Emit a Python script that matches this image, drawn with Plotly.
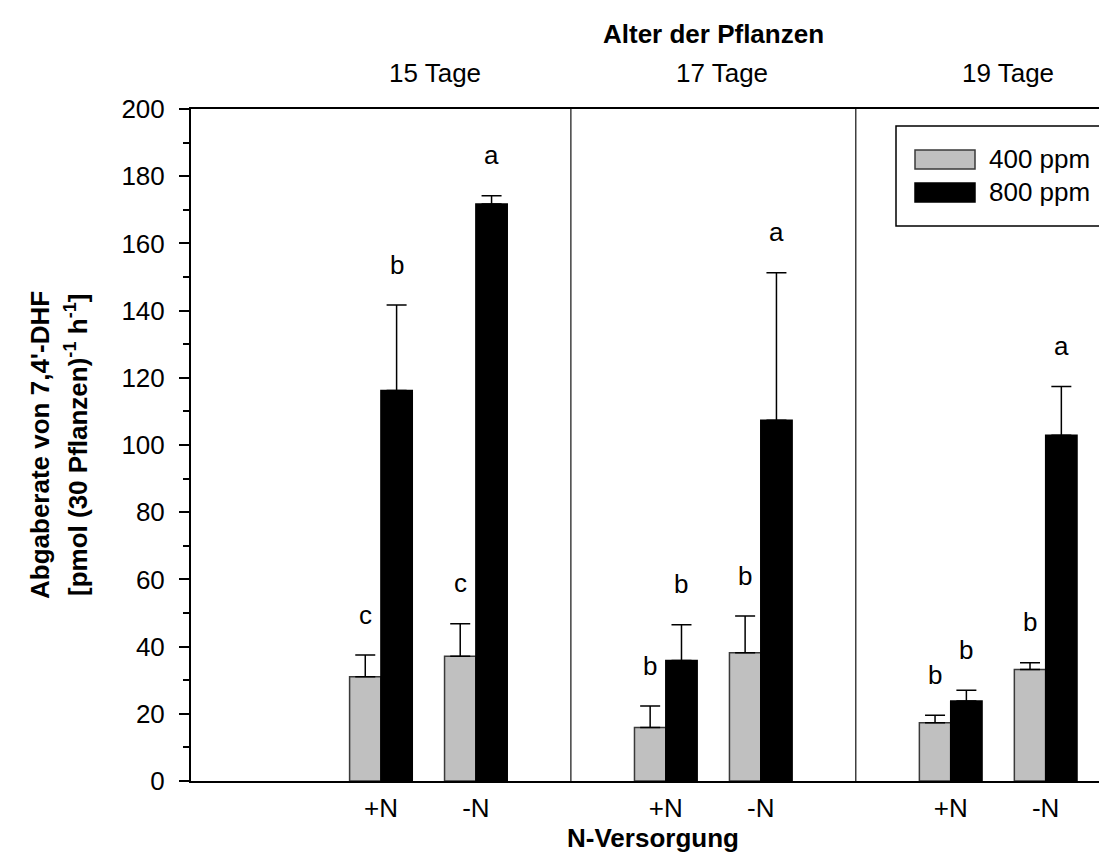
import plotly.graph_objects as go

# ---------------- data ----------------
ages = ["15 Tage", "17 Tage", "19 Tage"]
n_levels = ["+N", "-N"]
series_names = ["400 ppm", "800 ppm"]

v400 = [31.0, 37.1, 15.9, 38.2, 17.3, 33.2]
e400 = [6.5, 9.7, 6.4, 10.9, 2.3, 2.0]
v800 = [116.2, 171.7, 35.9, 107.4, 23.8, 102.9]
e800 = [25.5, 2.5, 10.6, 43.9, 3.2, 14.5]

letters400 = ["c", "c", "b", "b", "b", "b"]
letters800 = ["b", "a", "b", "a", "b", "a"]

y_ticks = [0, 20, 40, 60, 80, 100, 120, 140, 160, 180, 200]

# ---------------- layout constants ----------------
W, H = 1107, 863
ML, MR, MT, MB = 183, 0, 101, 90
PW, PH = W - ML - MR, H - MT - MB
XMAX = 9.73
FONT = "Arial, 'Liberation Sans', sans-serif"
FS = 26
BARGAP = 0.34

# positions: each age group uses 3 slots (2 bars + gap), starting at slot 2
x_pos = []
for g in range(len(ages)):
    for k in range(len(n_levels)):
        x_pos.append(2 + 3 * g + k)
sep_pos = [2 + 3 * g + 2 for g in range(len(ages) - 1)]
group_centers = [2 + 3 * g + 0.5 for g in range(len(ages))]
tick_text = [n_levels[i % 2] for i in range(len(x_pos))]


def px2x(px):  # paper coordinate from pixel
    return (px - ML) / PW


def px2y(py):
    return (H - MB - py) / PH


def txt(**kw):
    d = dict(showarrow=False, xanchor="center", yanchor="middle",
             font=dict(size=FS, color="black", family=FONT))
    d.update(kw)
    return d


fig = go.Figure()
fig.add_trace(go.Bar(
    x=x_pos, y=v400, name=series_names[0],
    marker=dict(color="#c0c0c0", line=dict(color="#3a3a3a", width=1.5)),
    error_y=dict(type="data", array=e400, arrayminus=[0] * len(e400),
                 symmetric=False, color="black", thickness=1.5, width=10),
))
fig.add_trace(go.Bar(
    x=x_pos, y=v800, name=series_names[1],
    marker=dict(color="#000000", line=dict(color="#000000", width=1.5)),
    error_y=dict(type="data", array=e800, arrayminus=[0] * len(e800),
                 symmetric=False, color="black", thickness=1.5, width=10),
))

annotations = []
off = (1 - BARGAP) / 4
for i, xp in enumerate(x_pos):
    annotations.append(txt(x=xp - off, y=v400[i] + e400[i] + 12, xref="x", yref="y",
                           text=letters400[i]))
    annotations.append(txt(x=xp + off, y=v800[i] + e800[i] + 12, xref="x", yref="y",
                           text=letters800[i]))

# group labels on top
shifts = [7, 9, 10]
for g, name in enumerate(ages):
    annotations.append(txt(x=group_centers[g], y=px2y(65), xref="x", yref="paper",
                           text=name, xshift=shifts[g]))
annotations.append(txt(x=px2x(705), y=px2y(26), xref="paper", yref="paper",
                       text="<b>Alter der Pflanzen</b>"))
annotations.append(txt(x=px2x(645), y=px2y(830), xref="paper", yref="paper",
                       text="<b>N-Versorgung</b>"))
# y-axis title (two lines)
annotations.append(txt(x=px2x(32), y=0.5, xref="paper", yref="paper",
                       text="<b>Abgaberate von 7,4'-DHF</b>", textangle=-90))
annotations.append(txt(x=px2x(68), y=0.5, xref="paper", yref="paper",
                       text="<b>[pmol (30 Pflanzen)<sup>-1</sup> h<sup>-1</sup>]</b>",
                       textangle=-90))

# legend (drawn)
shapes = []
shapes.append(dict(type="rect", xref="paper", yref="paper",
                   x0=px2x(888), x1=px2x(1103), y0=px2y(218), y1=px2y(118),
                   line=dict(color="black", width=1.5), fillcolor="white", layer="above"))
shapes.append(dict(type="rect", xref="paper", yref="paper",
                   x0=px2x(907), x1=px2x(967), y0=px2y(161), y1=px2y(142),
                   line=dict(color="#3a3a3a", width=1.5), fillcolor="#c0c0c0", layer="above"))
shapes.append(dict(type="rect", xref="paper", yref="paper",
                   x0=px2x(907), x1=px2x(967), y0=px2y(194), y1=px2y(175),
                   line=dict(color="black", width=1.5), fillcolor="black", layer="above"))
annotations.append(txt(x=px2x(979), y=px2y(151), xref="paper", yref="paper", xanchor="left",
                       text=series_names[0]))
annotations.append(txt(x=px2x(979), y=px2y(184), xref="paper", yref="paper", xanchor="left",
                       text=series_names[1]))

# group separators
for s in sep_pos:
    shapes.append(dict(type="line", xref="x", yref="y", x0=s, x1=s, y0=-0.6, y1=200,
                       line=dict(color="#404040", width=1.5), layer="above"))

fig.update_layout(
    width=W, height=H,
    margin=dict(l=ML, r=MR, t=MT, b=MB, pad=0),
    paper_bgcolor="white", plot_bgcolor="white",
    barmode="group", bargap=BARGAP, bargroupgap=0,
    showlegend=False,
    font=dict(family=FONT, size=FS, color="black"),
    annotations=annotations, shapes=shapes,
    xaxis=dict(range=[0, XMAX], tickmode="array", tickvals=x_pos, ticktext=tick_text,
               showgrid=False, zeroline=False, showline=True, mirror=True,
               linecolor="black", linewidth=2, ticks="", ticklabelstandoff=3,
               tickfont=dict(size=FS, family=FONT, color="black")),
    yaxis=dict(range=[0, 200], tickmode="array", tickvals=y_ticks,
               showgrid=False, zeroline=False, showline=True,
               linecolor="black", linewidth=2, ticks="outside", ticklen=10,
               tickwidth=1.5, tickcolor="black", ticklabelstandoff=9,
               minor=dict(dtick=10, ticks="outside", ticklen=6, tickwidth=1.5,
                          tickcolor="black", showgrid=False),
               tickfont=dict(size=FS, family=FONT, color="black")),
)

fig.write_html("out.html")
